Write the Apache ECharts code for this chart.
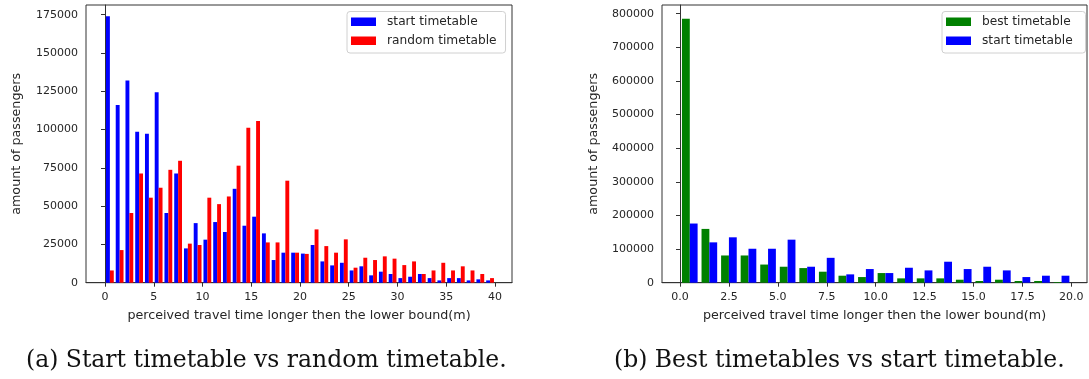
<!DOCTYPE html>
<html><head><meta charset="utf-8">
<script src="https://cdn.jsdelivr.net/npm/echarts@6/dist/echarts.min.js"></script>
<style>html,body{margin:0;padding:0;background:#fff}#c{width:1089px;height:379px}</style>
</head><body><div id="c"></div><script>
// ---- data (a): start vs random timetable, 1-minute bins 0..40 ----
const leftBins = [0,1,2,3,4,5,6,7,8,9,10,11,12,13,14,15,16,17,18,19,20,21,22,23,24,25,26,27,28,29,30,31,32,33,34,35,36,37,38,39];
const startA = [174000,116000,132000,98500,97200,124400,45500,71300,22400,38900,28100,39600,33100,61300,37200,43100,32200,14800,19600,19600,19000,24600,13900,11300,13000,8000,10700,4800,7200,5700,3000,3900,5700,3000,1500,3000,3000,1500,2200,1500];
const randomA = [8000,21300,45500,71300,55500,62000,73700,79600,25500,24600,55500,51300,56300,76400,101200,105500,26300,26300,66600,19600,18800,34800,23900,19600,28300,9800,16300,14800,17200,15700,11500,13900,5700,8000,13000,8000,10700,8000,5700,3000];
// ---- data (b): best vs start timetable, 1-minute bins 0..20 ----
const rightBins = [0,1,2,3,4,5,6,7,8,9,10,11,12,13,14,15,16,17,18,19];
const bestB = [785000,160000,81000,81000,54000,47500,43500,32700,20800,16800,28700,12900,12900,12900,8900,5000,8900,5000,5000,2000];
const startB = [176000,120000,135000,101000,101000,128000,47500,74000,24800,40600,28700,44500,36600,62400,40600,47500,36600,16800,20800,20800];
// ---- tick labels ----
const leftXTicks = [0,5,10,15,20,25,30,35,40];
const leftYTicks = [0,25000,50000,75000,100000,125000,150000,175000];
const rightXTicks = [0,2.5,5,7.5,10,12.5,15,17.5,20];
const rightYTicks = [0,100000,200000,300000,400000,500000,600000,700000,800000];
const xName = 'perceived travel time longer then the lower bound(m)';
const yName = 'amount of passengers';
const captionA = '(a) Start timetable vs random timetable.';
const captionB = '(b) Best timetables vs start timetable.';

const FONT = 'DejaVu Sans';
const TXT = '#262626';
const AX = '#333';
const FS_TICK = 11;
const FS_NAME = 12.7;
const FS_LEG = 12.2;

function pairs(bins, vals){ return bins.map((b,i)=>[b, vals[i]]); }
function barRenderer(offset){
  return function(params, api){
    const s = api.value(0), v = api.value(1);
    const p0 = api.coord([s + offset, v]);
    const p1 = api.coord([s + offset + 0.4, 0]);
    return {type:'rect', shape:{x:p0[0], y:p0[1], width:p1[0]-p0[0], height:p1[1]-p0[1]},
            style:{fill: api.visual('color')}};
  };
}
function xAxisCfg(idx, min, max, ticks, fmt){
  return {type:'value', gridIndex: idx, min, max,
    name: xName, nameLocation:'middle', nameGap: 26,
    nameTextStyle:{fontFamily:FONT, fontSize:FS_NAME, color:TXT},
    axisLine:{show:true, onZero:false, lineStyle:{color:AX, width:1}},
    axisTick:{show:true, length:4, inside:false, customValues: ticks, lineStyle:{color:AX}},
    axisLabel:{show:true, margin:9, customValues: ticks, formatter: fmt, fontFamily:FONT, fontSize:FS_TICK, color:TXT},
    splitLine:{show:false}};
}
function yAxisCfg(idx, max, ticks, gap){
  return {type:'value', gridIndex: idx, min:0, max,
    name: yName, nameLocation:'middle', nameGap: gap, nameRotate: 90,
    nameTextStyle:{fontFamily:FONT, fontSize:FS_NAME, color:TXT},
    axisLine:{show:true, lineStyle:{color:AX, width:1}},
    axisTick:{show:true, length:4, customValues: ticks, lineStyle:{color:AX}},
    axisLabel:{show:true, margin:8, customValues: ticks, formatter: v => String(v), fontFamily:FONT, fontSize:FS_TICK, color:TXT},
    splitLine:{show:false}};
}
function legendCfg(left, names){
  return {orient:'vertical', left, top: 11.5, data: names.map(n=>({name:n, icon:'rect'})),
    itemWidth:25, itemHeight:8.5, itemGap:4.5, padding:[3,9,5,4],
    backgroundColor:'rgba(255,255,255,0.8)', borderColor:'#d0d0d0', borderWidth:1, borderRadius:3,
    textStyle:{fontFamily:FONT, fontSize:FS_LEG, color:TXT, lineHeight:14.5, padding:[0,0,0,6]},
    selectedMode:false};
}

const chart = echarts.init(document.getElementById('c'), null, {renderer:'canvas'});
chart.setOption({
  animation:false,
  backgroundColor:'#fff',
  grid:[
    {left:86, top:5, width:426, height:277.7, show:true, borderColor:AX, borderWidth:1, backgroundColor:'transparent'},
    {left:662, top:5, width:425, height:277.7, show:true, borderColor:AX, borderWidth:1, backgroundColor:'transparent'}
  ],
  xAxis:[
    xAxisCfg(0, -1.95, 41.75, leftXTicks, v => String(v)),
    xAxisCfg(1, -0.92, 20.8, rightXTicks, v => Number(v).toFixed(1))
  ],
  yAxis:[
    yAxisCfg(0, 181300, leftYTicks, 63),
    yAxisCfg(1, 826000, rightYTicks, 61.5)
  ],
  legend:[
    legendCfg(347, ['start timetable','random timetable']),
    legendCfg(942, ['best timetable','start timetable '])
  ],
  series:[
    {name:'start timetable', type:'custom', xAxisIndex:0, yAxisIndex:0, itemStyle:{color:'#0000ff'},
     renderItem: barRenderer(0.1), data: pairs(leftBins, startA)},
    {name:'random timetable', type:'custom', xAxisIndex:0, yAxisIndex:0, itemStyle:{color:'#ff0000'},
     renderItem: barRenderer(0.5), data: pairs(leftBins, randomA)},
    {name:'best timetable', type:'custom', xAxisIndex:1, yAxisIndex:1, itemStyle:{color:'#008000'},
     renderItem: barRenderer(0.1), data: pairs(rightBins, bestB)},
    {name:'start timetable ', type:'custom', xAxisIndex:1, yAxisIndex:1, itemStyle:{color:'#0000ff'},
     renderItem: barRenderer(0.5), data: pairs(rightBins, startB)}
  ],
  graphic:[
    {type:'text', left:26, top:349, style:{text:captionA, font:'23.5px "DejaVu Serif"', fill:'#111'}},
    {type:'text', left:614, top:349, style:{text:captionB, font:'23.5px "DejaVu Serif"', fill:'#111'}}
  ]
});
</script></body></html>
